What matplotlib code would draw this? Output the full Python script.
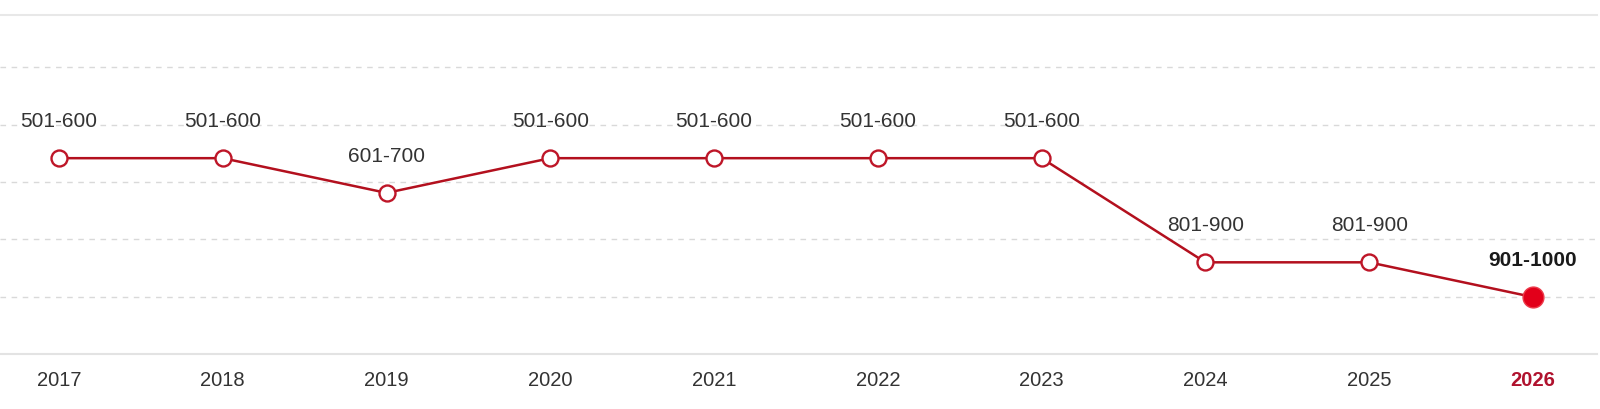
import numpy as np
import matplotlib
matplotlib.use('Agg')
import matplotlib.pyplot as plt

plt.rcParams['font.family'] = ['Liberation Sans', 'DejaVu Sans']

## data: rank band per year (plotted at band midpoint)
years = [2017, 2018, 2019, 2020, 2021, 2022, 2023, 2024, 2025, 2026]
rank_labels = ['501-600', '501-600', '601-700', '501-600', '501-600',
               '501-600', '501-600', '801-900', '801-900', '901-1000']
rank_mid = [550, 550, 650, 550, 550, 550, 550, 850, 850, 950]
grid_levels = [949.5, 784, 618.5, 453, 287.5]

line_red = '#b3101e'
dot_red = '#e2001a'
text_col = '#333333'

fig = plt.figure(figsize=(16, 4.09), dpi=100)
ax = fig.add_axes([0, 0.1337, 0.998, 0.8296])

for g in grid_levels:
    ax.axhline(g, color='#d9d9d9', lw=1, ls=(0, (4, 4)), zorder=0)

ax.plot(years, rank_mid, color=line_red, lw=1.8, zorder=2)
ax.plot(years[:-1], rank_mid[:-1], 'o', ms=11.5, mfc='white', mec='#be1628',
        mew=1.7, zorder=3)
ax.plot(years[-1], rank_mid[-1], 'o', ms=15, mfc=dot_red, mec='#ec3a4a',
        mew=1, zorder=3)

for i, (x, y, lab) in enumerate(zip(years, rank_mid, rank_labels)):
    last = i == len(years) - 1
    ax.annotate(lab, (x, y), xytext=(0, 22.5), textcoords='offset points',
                ha='center', va='baseline', fontsize=15,
                color='#1a1a1a' if last else text_col,
                fontweight='bold' if last else 'normal')

ax.set_xlim(2016.64, 2026.39)
ax.set_ylim(1115, 137.6)
ax.set_yticks([])
ax.set_xticks(years)
ax.set_xticklabels([str(y) for y in years], fontsize=14.5, color=text_col)
ax.tick_params(axis='x', length=0, pad=12)
lbls = ax.get_xticklabels()
lbls[-1].set_fontweight('bold')
lbls[-1].set_color('#b0122e')

for s in ['left', 'right']:
    ax.spines[s].set_visible(False)
ax.spines['top'].set_color('#e8e8e8')
ax.spines['bottom'].set_color('#e3e3e3')
ax.spines['top'].set_linewidth(1.5)
ax.spines['bottom'].set_linewidth(1.5)

fig.savefig('out.png', dpi=100)
